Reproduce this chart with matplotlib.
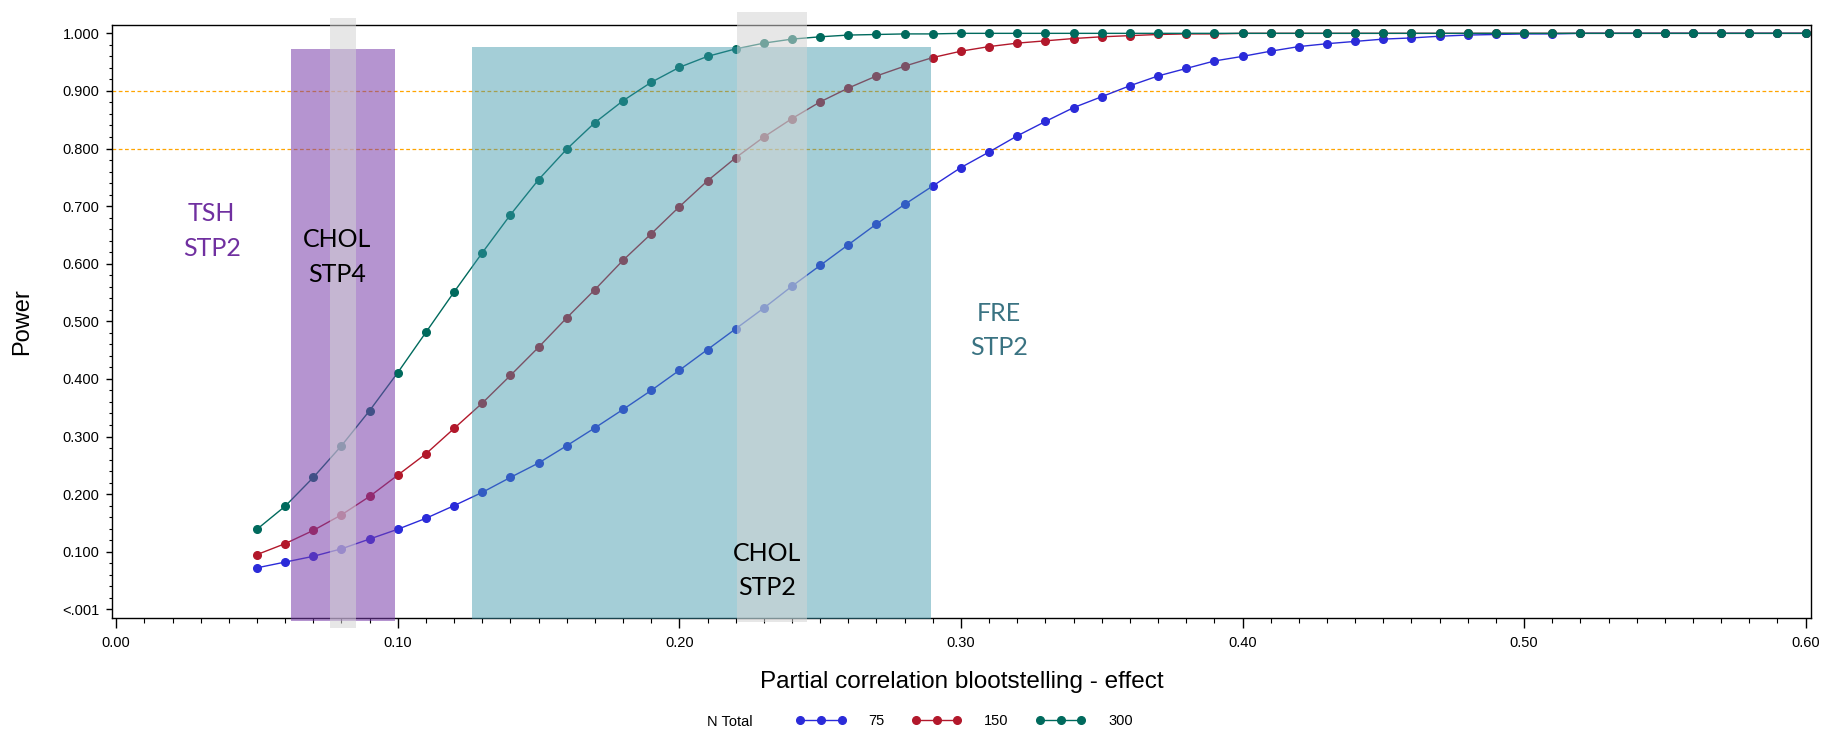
import numpy as np
import matplotlib
matplotlib.use("Agg")
import matplotlib.pyplot as plt
from matplotlib.patches import Rectangle
from matplotlib.ticker import MultipleLocator, FixedLocator, FixedFormatter

# ---- data -------------------------------------------------------------
effect = [round(0.05 + 0.01 * i, 2) for i in range(56)]   # 0.05 ... 0.60

power_75 = [0.072, 0.082, 0.092, 0.105, 0.122, 0.139, 0.158, 0.180, 0.203, 0.229,
            0.254, 0.284, 0.315, 0.347, 0.380, 0.415, 0.451, 0.487, 0.523, 0.561,
            0.597, 0.633, 0.669, 0.703, 0.735, 0.767, 0.794, 0.822, 0.847, 0.871,
            0.890, 0.909, 0.926, 0.939, 0.952, 0.960, 0.969, 0.977, 0.982, 0.986,
            0.990, 0.992, 0.995, 0.997, 0.998, 0.999, 0.999, 1.000, 1.000, 1.000,
            1.000, 1.000, 1.000, 1.000, 1.000, 1.000]

power_150 = [0.095, 0.114, 0.137, 0.164, 0.196, 0.233, 0.270, 0.314, 0.358, 0.406,
             0.455, 0.506, 0.555, 0.606, 0.652, 0.699, 0.744, 0.784, 0.820, 0.852,
             0.881, 0.905, 0.926, 0.943, 0.958, 0.969, 0.977, 0.983, 0.987, 0.991,
             0.994, 0.996, 0.998, 0.999, 0.999, 1.000, 1.000, 1.000, 1.000, 1.000,
             1.000, 1.000, 1.000, 1.000, 1.000, 1.000, 1.000, 1.000, 1.000, 1.000,
             1.000, 1.000, 1.000, 1.000, 1.000, 1.000]

power_300 = [0.139, 0.179, 0.229, 0.284, 0.345, 0.411, 0.481, 0.551, 0.619, 0.685,
             0.746, 0.799, 0.845, 0.883, 0.915, 0.941, 0.960, 0.973, 0.983, 0.990,
             0.994, 0.997, 0.998, 0.999, 0.999, 1.000, 1.000, 1.000, 1.000, 1.000,
             1.000, 1.000, 1.000, 1.000, 1.000, 1.000, 1.000, 1.000, 1.000, 1.000,
             1.000, 1.000, 1.000, 1.000, 1.000, 1.000, 1.000, 1.000, 1.000, 1.000,
             1.000, 1.000, 1.000, 1.000, 1.000, 1.000]

group_labels = ["75", "150", "300"]
group_colors = ["#2B2BD9", "#B2182B", "#006A5D"]
reference_power = [0.8, 0.9]

y_ticks = [0.0, 0.1, 0.2, 0.3, 0.4, 0.5, 0.6, 0.7, 0.8, 0.9, 1.0]
y_tick_labels = ["<.001", "0.100", "0.200", "0.300", "0.400", "0.500",
                 "0.600", "0.700", "0.800", "0.900", "1.000"]
x_ticks = [0.0, 0.1, 0.2, 0.3, 0.4, 0.5, 0.6]
x_tick_labels = ["0.00", "0.10", "0.20", "0.30", "0.40", "0.50", "0.60"]

# highlighted effect ranges: (x0, x1, y0, y1, colour, alpha)
bands = [
    (0.062, 0.099, -0.021, 0.973, (120/255, 60/255, 170/255), 0.55),
    (0.1263, 0.2892, -0.016, 0.976, (60/255, 150/255, 170/255), 0.467),
]
light_bands = [
    (0.0758, 0.0850, -0.032, 1.027),
    (0.2203, 0.2452, -0.022, 1.037),
]

# annotations: (x, y, text, colour)
notes = [
    (0.0339, 0.657, "TSH\nSTP2", "#7030A0"),
    (0.0783, 0.612, "CHOL\nSTP4", "#000000"),
    (0.3135, 0.484, "FRE\nSTP2", "#3A7382"),
    (0.2310, 0.067, "CHOL\nSTP2", "#000000"),
]

# ---- figure -----------------------------------------------------------
plt.rcParams["font.family"] = ["Liberation Sans", "DejaVu Sans"]
W, H = 1821, 731
fig = plt.figure(figsize=(W / 100, H / 100), dpi=100)
ax = fig.add_axes([112 / W, 1 - 617.7 / H, (1811 - 112) / W, (617.7 - 24.7) / H])

ax.set_xlim(-0.0015, 0.6019)
ax.set_ylim(-0.0146, 1.015)

for yv in reference_power:
    ax.axhline(yv, color="#FFA500", lw=0.9, ls=(0, (3, 2)), zorder=1)

lines = []
for vals, lab, col in zip([power_75, power_150, power_300], group_labels, group_colors):
    ln, = ax.plot(effect, vals, color=col, lw=1.0, marker="o", ms=5.5,
                  mec=col, mfc=col, label=lab, zorder=2)
    lines.append(ln)

for x0, x1, y0, y1, col, a in bands:
    ax.add_patch(Rectangle((x0, y0), x1 - x0, y1 - y0, facecolor=col, alpha=a,
                           edgecolor="none", clip_on=False, zorder=3))
for x0, x1, y0, y1 in light_bands:
    ax.add_patch(Rectangle((x0, y0), x1 - x0, y1 - y0, facecolor=(212/255,) * 3,
                           alpha=0.54, edgecolor="none", clip_on=False, zorder=4))

for x, y, txt, col in notes:
    ax.text(x, y, txt, color=col, fontsize=18, family=["Lato", "DejaVu Sans"],
            ha="center", va="center", linespacing=1.6, zorder=5)

# axes styling
for s in ax.spines.values():
    s.set_linewidth(1.0)
    s.set_color("black")

ax.yaxis.set_major_locator(FixedLocator(y_ticks))
ax.yaxis.set_major_formatter(FixedFormatter(y_tick_labels))
ax.yaxis.set_minor_locator(MultipleLocator(0.02))
ax.xaxis.set_major_locator(FixedLocator(x_ticks))
ax.xaxis.set_major_formatter(FixedFormatter(x_tick_labels))
ax.xaxis.set_minor_locator(MultipleLocator(0.01))

ax.tick_params(axis="y", which="major", length=4.5, width=1.0, labelsize=10.5, pad=4.5)
ax.tick_params(axis="y", which="minor", length=2.5, width=0.8)
ax.tick_params(axis="x", which="major", length=7, width=1.0, labelsize=10.5, pad=6)
ax.tick_params(axis="x", which="minor", length=3.5, width=0.8)

ax.set_ylabel("Power", fontsize=17)
ax.yaxis.set_label_coords(-0.0465, 0.5)
ax.set_xlabel("Partial correlation blootstelling - effect", fontsize=17.5)
ax.xaxis.set_label_coords(0.5, -0.09)

# legend along the bottom edge
fig.text(707 / W, 1 - 722.5 / H, "N Total", fontsize=10.5, ha="left", va="center")
fig.legend(lines, group_labels, loc="center left",
           bbox_to_anchor=(796 / W, 1 - 721 / H), bbox_transform=fig.transFigure,
           ncol=3, frameon=False, numpoints=3, handlelength=3.42,
           handletextpad=1.55, columnspacing=1.85, borderpad=0, borderaxespad=0,
           fontsize=10.5)

fig.savefig("out.png", dpi=100)
